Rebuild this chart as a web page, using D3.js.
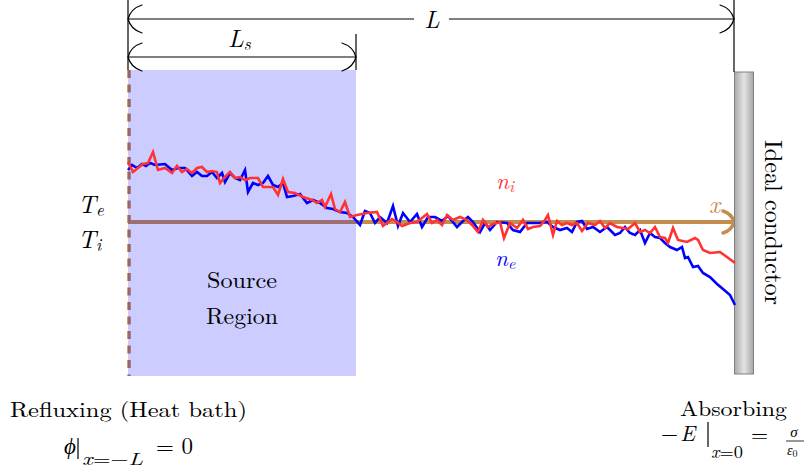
<!DOCTYPE html>
<html><head><meta charset="utf-8">
<script src="https://cdn.jsdelivr.net/npm/d3@7"></script>
<style>
html,body{margin:0;padding:0;background:#fff;}
svg{display:block;}
</style>
</head><body>
<svg id="fig" width="806" height="473"></svg>
<script>
// Domain length and source-region width (normalized length units)
const L = 60.7;
const Ls = 22.8;

// Electron density profile n_e (position, density)
const xe = [-60.7,-60.3,-59.8,-59.3,-58.9,-58.5,-58.0,-57.0,-56.3,-55.7,-55.0,-54.3,-53.8,-53.3,-52.8,-52.3,-51.8,-51.3,-51.0,-50.5,
  -50.0,-49.5,-49.0,-48.7,-48.2,-47.7,-47.2,-46.7,-46.2,-45.7,-45.2,-44.8,-44.2,-43.5,-42.8,-42.2,-41.5,-40.8,-40.2,-39.5,
  -38.8,-38.2,-37.5,-37.0,-36.5,-36.0,-35.5,-34.8,-34.2,-33.7,-33.2,-32.5,-31.8,-31.3,-30.7,-30.0,-29.3,-28.7,-27.8,-27.3,
  -26.7,-26.2,-25.5,-25.0,-24.5,-23.8,-22.8,-22.2,-21.5,-20.8,-20.2,-19.5,-18.8,-18.2,-17.5,-16.8,-16.3,-15.8,-15.3,-14.8,
  -14.2,-13.5,-12.8,-12.0,-11.5,-11.0,-10.5,-10.0,-9.5,-9.0,-8.5,-8.0,-7.5,-7.0,-6.5,-5.8,-5.3,-5.0,-4.7,-4.2,
  -3.7,-3.2,-2.5,-1.8,-1.2,-0.5,0];
const ne = [1.52,1.57,1.54,1.58,1.56,1.59,1.57,1.58,1.52,1.54,1.54,1.46,1.50,1.46,1.46,1.50,1.44,1.49,1.40,1.49,
  1.44,1.42,1.52,1.30,1.39,1.37,1.39,1.46,1.37,1.35,1.39,1.25,1.26,1.28,1.19,1.22,1.19,1.14,1.13,1.10,
  1.09,1.05,0.97,1.11,1.09,0.99,1.05,0.99,1.16,0.96,1.09,1.00,1.08,0.95,1.05,1.05,1.01,1.06,0.95,1.00,
  1.05,1.00,0.90,0.99,0.92,1.00,0.99,0.92,0.90,0.99,0.99,0.99,1.00,0.95,0.92,0.94,0.90,1.00,1.01,0.93,
  0.95,0.90,0.95,0.87,0.89,0.95,0.89,0.87,0.92,0.79,0.89,0.85,0.84,0.79,0.75,0.72,0.75,0.64,0.65,0.55,
  0.56,0.49,0.45,0.38,0.33,0.27,0.17];

// Ion density profile n_i (position, density)
const xi = [-60.7,-60.2,-59.7,-59.2,-58.7,-58.2,-57.7,-57.0,-56.3,-55.8,-55.3,-54.8,-54.3,-53.8,-53.3,-52.8,-52.3,-51.8,-51.5,-51.0,
  -50.5,-50.0,-49.5,-49.0,-48.5,-47.7,-47.2,-46.7,-46.2,-45.7,-45.2,-44.7,-44.0,-43.2,-42.3,-41.8,-41.3,-41.0,-40.4,-40.0,
  -39.5,-39.0,-38.5,-37.8,-36.8,-35.8,-35.2,-34.3,-33.8,-33.3,-32.5,-31.8,-30.8,-30.3,-29.8,-29.3,-28.8,-28.2,-27.5,-26.8,
  -26.3,-25.7,-25.2,-24.7,-24.2,-23.5,-23.1,-22.5,-21.8,-21.2,-20.7,-20.2,-19.5,-19.0,-18.7,-18.2,-17.8,-17.3,-16.8,-16.3,
  -15.8,-15.3,-14.7,-14.0,-13.5,-13.0,-12.5,-11.8,-11.2,-10.7,-10.0,-9.5,-9.0,-8.5,-8.0,-7.5,-7.0,-6.7,-6.2,-5.7,
  -4.8,-4.0,-3.7,-3.2,-2.5,-1.5,-0.8,0];
const ni = [1.60,1.50,1.54,1.58,1.59,1.70,1.52,1.54,1.49,1.56,1.50,1.53,1.49,1.54,1.55,1.50,1.51,1.50,1.39,1.45,
  1.50,1.44,1.45,1.42,1.44,1.44,1.35,1.35,1.35,1.27,1.43,1.30,1.29,1.25,1.22,1.19,1.22,1.15,1.28,1.13,
  1.10,1.20,1.05,1.07,1.09,1.10,0.96,1.03,1.00,0.96,0.99,1.00,1.08,0.99,1.02,0.97,1.07,1.02,1.05,1.02,
  0.97,0.90,1.02,0.95,0.98,1.00,0.84,0.99,0.94,1.02,0.93,0.95,0.96,1.02,1.07,0.87,1.01,0.97,0.99,0.97,
  0.99,0.91,0.99,0.97,1.01,0.94,0.99,0.95,0.94,0.93,0.99,0.90,0.92,0.89,0.95,0.85,0.84,0.79,0.94,0.82,
  0.80,0.84,0.82,0.72,0.69,0.70,0.65,0.59];

const FONT = "'Latin Modern Roman', 'Liberation Serif', serif";
const svg = d3.select('#fig');
const x = d3.scaleLinear().domain([-L, 0]).range([128, 735]);
const y = d3.scaleLinear().domain([0, 2]).range([322, 122]);
const axisY = y(1);
const tan = '#c48c4e';
const brown = '#bf8040';

const defs = svg.append('defs');
const grad = defs.append('linearGradient').attr('id', 'metal')
  .attr('x1', '0%').attr('x2', '100%').attr('y1', '0%').attr('y2', '0%');
grad.append('stop').attr('offset', '0%').attr('stop-color', '#a9a9a9');
grad.append('stop').attr('offset', '50%').attr('stop-color', '#e4e4e4');
grad.append('stop').attr('offset', '100%').attr('stop-color', '#a6a6a6');

// curved "to"-style arrow tip pointing right at (0,0), mirrored when dir = -1
function tip(g, tx, ty, dir, s, color, w) {
  g.append('path')
    .attr('d', `M${-s},${-s} Q${-s * 0.2},${-s * 0.75} 0,0 Q${-s * 0.2},${s * 0.75} ${-s},${s}`)
    .attr('transform', `translate(${tx},${ty}) scale(${dir},1)`)
    .attr('fill', 'none').attr('stroke', color).attr('stroke-width', w)
    .attr('stroke-linecap', 'round');
}

// text helper: parts are [string, options] pairs placed as tspans
function tex(parent, tx, ty, size, parts, attrs) {
  const t = parent.append('text').attr('x', tx).attr('y', ty)
    .style('font-family', FONT).style('font-size', size + 'px');
  Object.entries(attrs || {}).forEach(([k, v]) => t.attr(k, v));
  parts.forEach(([str, o]) => {
    const s = t.append('tspan').text(str);
    if (o && o.it) s.style('font-style', 'italic');
    if (o && o.size) s.style('font-size', o.size + 'px');
    if (o && o.dy) s.attr('dy', o.dy);
    if (o && o.dx) s.attr('dx', o.dx);
  });
  return t;
}

// x axis (drawn first so the source region tints it)
const ax = svg.append('g');
ax.append('line').attr('x1', x(-L)).attr('x2', x(0) - 2)
  .attr('y1', axisY).attr('y2', axisY)
  .attr('stroke', tan).attr('stroke-width', 4);
tip(ax, x(0) - 1, axisY, 1, 11, tan, 3.5);
tex(ax, 709, 213, 24, [['x', { it: true }]], { fill: tan });

// refluxing boundary
svg.append('line').attr('x1', x(-L) + 1).attr('x2', x(-L) + 1)
  .attr('y1', 70).attr('y2', 376)
  .attr('stroke', brown).attr('stroke-width', 3.5)
  .attr('stroke-dasharray', '8,6.5');

// source region
svg.append('rect').attr('x', x(-L)).attr('y', 70)
  .attr('width', x(-L + Ls) - x(-L)).attr('height', 306)
  .attr('fill', '#0000ff').attr('fill-opacity', 0.2);

// conductor plate
svg.append('rect').attr('x', x(0) - 0.5).attr('y', 72)
  .attr('width', 19).attr('height', 302)
  .attr('fill', 'url(#metal)').attr('stroke', '#808080').attr('stroke-width', 1);

// density profiles
const line = d3.line().x(d => x(d[0])).y(d => y(d[1]));
svg.append('path').datum(d3.zip(xe, ne)).attr('d', line)
  .attr('fill', 'none').attr('stroke', '#0000ff').attr('stroke-width', 2.6);
svg.append('path').datum(d3.zip(xi, ni)).attr('d', line)
  .attr('fill', 'none').attr('stroke', '#ff3333').attr('stroke-width', 2.6);

// dimension lines
const dim = svg.append('g').attr('stroke', '#000').attr('stroke-width', 1.2).attr('fill', 'none');
dim.append('line').attr('x1', x(-L)).attr('x2', x(-L)).attr('y1', 0).attr('y2', 70);
dim.append('line').attr('x1', x(0) - 1).attr('x2', x(0) - 1).attr('y1', 0).attr('y2', 72);
dim.append('line').attr('x1', x(-L + Ls)).attr('x2', x(-L + Ls)).attr('y1', 34).attr('y2', 70);
dim.append('line').attr('x1', x(-L)).attr('x2', x(0) - 1).attr('y1', 19).attr('y2', 19);
dim.append('line').attr('x1', x(-L)).attr('x2', x(-L + Ls)).attr('y1', 57).attr('y2', 57);
tip(dim, x(-L), 19, -1, 14, '#000', 1.2);
tip(dim, x(0) - 1, 19, 1, 14, '#000', 1.2);
tip(dim, x(-L), 57, -1, 14, '#000', 1.2);
tip(dim, x(-L + Ls), 57, 1, 14, '#000', 1.2);

svg.append('rect').attr('x', 414).attr('y', 8).attr('width', 35).attr('height', 24).attr('fill', '#fff');
tex(svg, 432, 28, 24, [['L', { it: true }]], { 'text-anchor': 'middle' });
tex(svg, 228, 47, 25, [['L', { it: true }], ['s', { it: true, size: 17, dy: 3 }]]);

// temperatures
tex(svg, 78, 213, 25, [['T', { it: true }], ['e', { it: true, size: 17, dy: 3 }]]);
tex(svg, 78, 248, 25, [['T', { it: true }], ['i', { it: true, size: 17, dy: 3 }]]);

// species labels
tex(svg, 496, 189, 23, [['n', { it: true }], ['i', { it: true, size: 16, dy: 3 }]], { fill: '#ff3333' });
tex(svg, 495, 266, 23, [['n', { it: true }], ['e', { it: true, size: 16, dy: 3 }]], { fill: '#0000ff' });

// plain labels
function label(tx, ty, str, size, len) {
  return tex(svg, tx, ty, size, [[str]], { textLength: len, lengthAdjust: 'spacingAndGlyphs' });
}
label(207, 288, 'Source', 23, 70);
label(206, 324, 'Region', 23, 72);
label(10, 417, 'Refluxing (Heat bath)', 21, 237);
label(680, 416, 'Absorbing', 21, 107);
tex(svg, 0, 0, 25, [['Ideal conductor']],
  { transform: 'translate(765,140) rotate(90)', textLength: 165, lengthAdjust: 'spacingAndGlyphs' });

// boundary conditions
const bc = svg.append('g');
tex(bc, 64, 454, 23, [['ϕ', { it: true }]]);
bc.append('line').attr('x1', 78).attr('x2', 78).attr('y1', 438).attr('y2', 459)
  .attr('stroke', '#000').attr('stroke-width', 1.2);
tex(bc, 82, 465, 17, [['x', { it: true }], ['=−'], ['L', { it: true }]],
  { textLength: 61, lengthAdjust: 'spacingAndGlyphs' });
tex(bc, 156, 454, 23, [['= 0']]);

tex(bc, 661, 441, 22, [['−'], ['E', { it: true, dx: 2 }]]);
bc.append('line').attr('x1', 708).attr('x2', 708).attr('y1', 422).attr('y2', 447)
  .attr('stroke', '#000').attr('stroke-width', 1.2);
tex(bc, 711, 458, 17, [['x', { it: true }], ['=0']],
  { textLength: 32, lengthAdjust: 'spacingAndGlyphs' });
tex(bc, 751, 442, 22, [['=']]);
tex(bc, 794, 436.5, 15, [['σ', { it: true }]], { 'text-anchor': 'middle' });
bc.append('line').attr('x1', 786).attr('x2', 804).attr('y1', 441).attr('y2', 441)
  .attr('stroke', '#000').attr('stroke-width', 0.8);
tex(bc, 787, 455, 14, [['ε', { it: true }], ['0', { size: 10, dy: 2 }]]);
</script>
</body></html>
